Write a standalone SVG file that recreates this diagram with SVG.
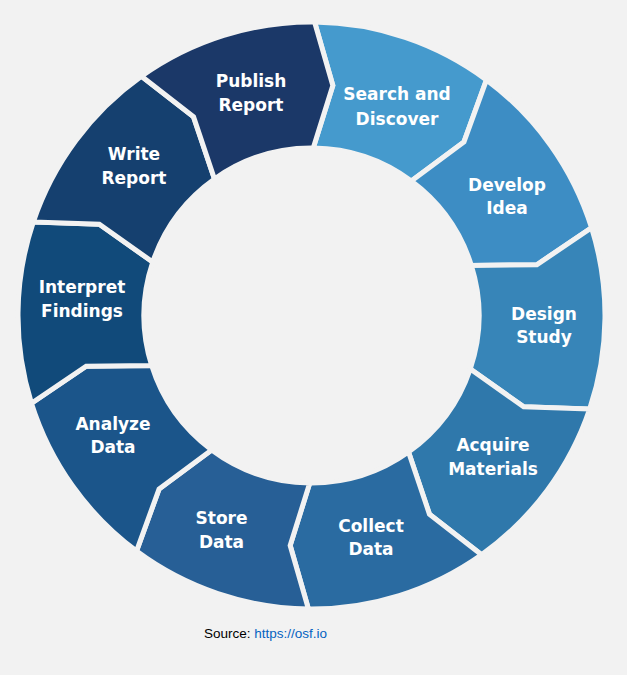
<svg xmlns="http://www.w3.org/2000/svg" width="627" height="675" viewBox="0 0 627 675">
<style>
.seg{stroke:#f2f2f2;stroke-width:5;stroke-linejoin:miter}
.lbl{font-family:"Century Gothic","DejaVu Sans",sans-serif;font-weight:bold;font-size:17px;fill:#ffffff;text-anchor:middle}
.src{font-family:"Liberation Sans",Arial,sans-serif;font-size:13.5px}
</style>
<rect x="0" y="0" width="627" height="675" fill="#f2f2f2"/>
<g id="search">
<path class="seg" fill="#459acd" d="M314.57,22.02 A293.5,293.5 0 0 1 486.49,79.87 L463.96,141.96 L411.37,181.03 A167.5,167.5 0 0 0 313.25,148.01 L332.84,85.49 Z"/>
<text class="lbl" x="397" y="100">Search and</text>
<text class="lbl" x="397" y="125">Discover</text>
</g>
<g id="develop">
<path class="seg" fill="#3d8dc4" d="M486.49,79.87 A293.5,293.5 0 0 1 591.57,227.73 L536.85,264.72 L471.34,265.41 A167.5,167.5 0 0 0 411.37,181.03 L463.96,141.96 Z"/>
<text class="lbl" x="507" y="191">Develop</text>
<text class="lbl" x="507" y="214">Idea</text>
</g>
<g id="design">
<path class="seg" fill="#3785b8" d="M591.57,227.73 A293.5,293.5 0 0 1 589.67,409.11 L523.66,406.87 L470.25,368.93 A167.5,167.5 0 0 0 471.34,265.41 L536.85,264.72 Z"/>
<text class="lbl" x="544" y="320">Design</text>
<text class="lbl" x="544" y="343">Study</text>
</g>
<g id="acquire">
<path class="seg" fill="#2f78ab" d="M589.67,409.11 A293.5,293.5 0 0 1 481.52,554.74 L429.44,514.13 L408.53,452.03 A167.5,167.5 0 0 0 470.25,368.93 L523.66,406.87 Z"/>
<text class="lbl" x="493" y="451">Acquire</text>
<text class="lbl" x="493" y="475">Materials</text>
</g>
<g id="collect">
<path class="seg" fill="#2a6ba1" d="M481.52,554.74 A293.5,293.5 0 0 1 308.43,608.98 L290.16,545.51 L309.75,482.99 A167.5,167.5 0 0 0 408.53,452.03 L429.44,514.13 Z"/>
<text class="lbl" x="371" y="532">Collect</text>
<text class="lbl" x="371" y="555">Data</text>
</g>
<g id="store">
<path class="seg" fill="#275f96" d="M308.43,608.98 A293.5,293.5 0 0 1 136.51,551.13 L159.04,489.04 L211.63,449.97 A167.5,167.5 0 0 0 309.75,482.99 L290.16,545.51 Z"/>
<text class="lbl" x="221.5" y="524">Store</text>
<text class="lbl" x="221.5" y="548">Data</text>
</g>
<g id="analyze">
<path class="seg" fill="#1b558a" d="M136.51,551.13 A293.5,293.5 0 0 1 31.43,403.27 L86.15,366.28 L151.66,365.59 A167.5,167.5 0 0 0 211.63,449.97 L159.04,489.04 Z"/>
<text class="lbl" x="113" y="430">Analyze</text>
<text class="lbl" x="113" y="453">Data</text>
</g>
<g id="interpret">
<path class="seg" fill="#114a7a" d="M31.43,403.27 A293.5,293.5 0 0 1 33.33,221.89 L99.34,224.13 L152.75,262.07 A167.5,167.5 0 0 0 151.66,365.59 L86.15,366.28 Z"/>
<text class="lbl" x="82" y="293">Interpret</text>
<text class="lbl" x="82" y="317">Findings</text>
</g>
<g id="write">
<path class="seg" fill="#15406f" d="M33.33,221.89 A293.5,293.5 0 0 1 141.48,76.26 L193.56,116.87 L214.47,178.97 A167.5,167.5 0 0 0 152.75,262.07 L99.34,224.13 Z"/>
<text class="lbl" x="134" y="160">Write</text>
<text class="lbl" x="134" y="184">Report</text>
</g>
<g id="publish">
<path class="seg" fill="#1b3868" d="M141.48,76.26 A293.5,293.5 0 0 1 314.57,22.02 L332.84,85.49 L313.25,148.01 A167.5,167.5 0 0 0 214.47,178.97 L193.56,116.87 Z"/>
<text class="lbl" x="251" y="87">Publish</text>
<text class="lbl" x="251" y="111">Report</text>
</g>
<g id="connectors"></g>
<text class="src" x="204" y="638"><tspan fill="#000000">Source: </tspan><tspan fill="#0563c1">https://osf.io</tspan></text>
</svg>
